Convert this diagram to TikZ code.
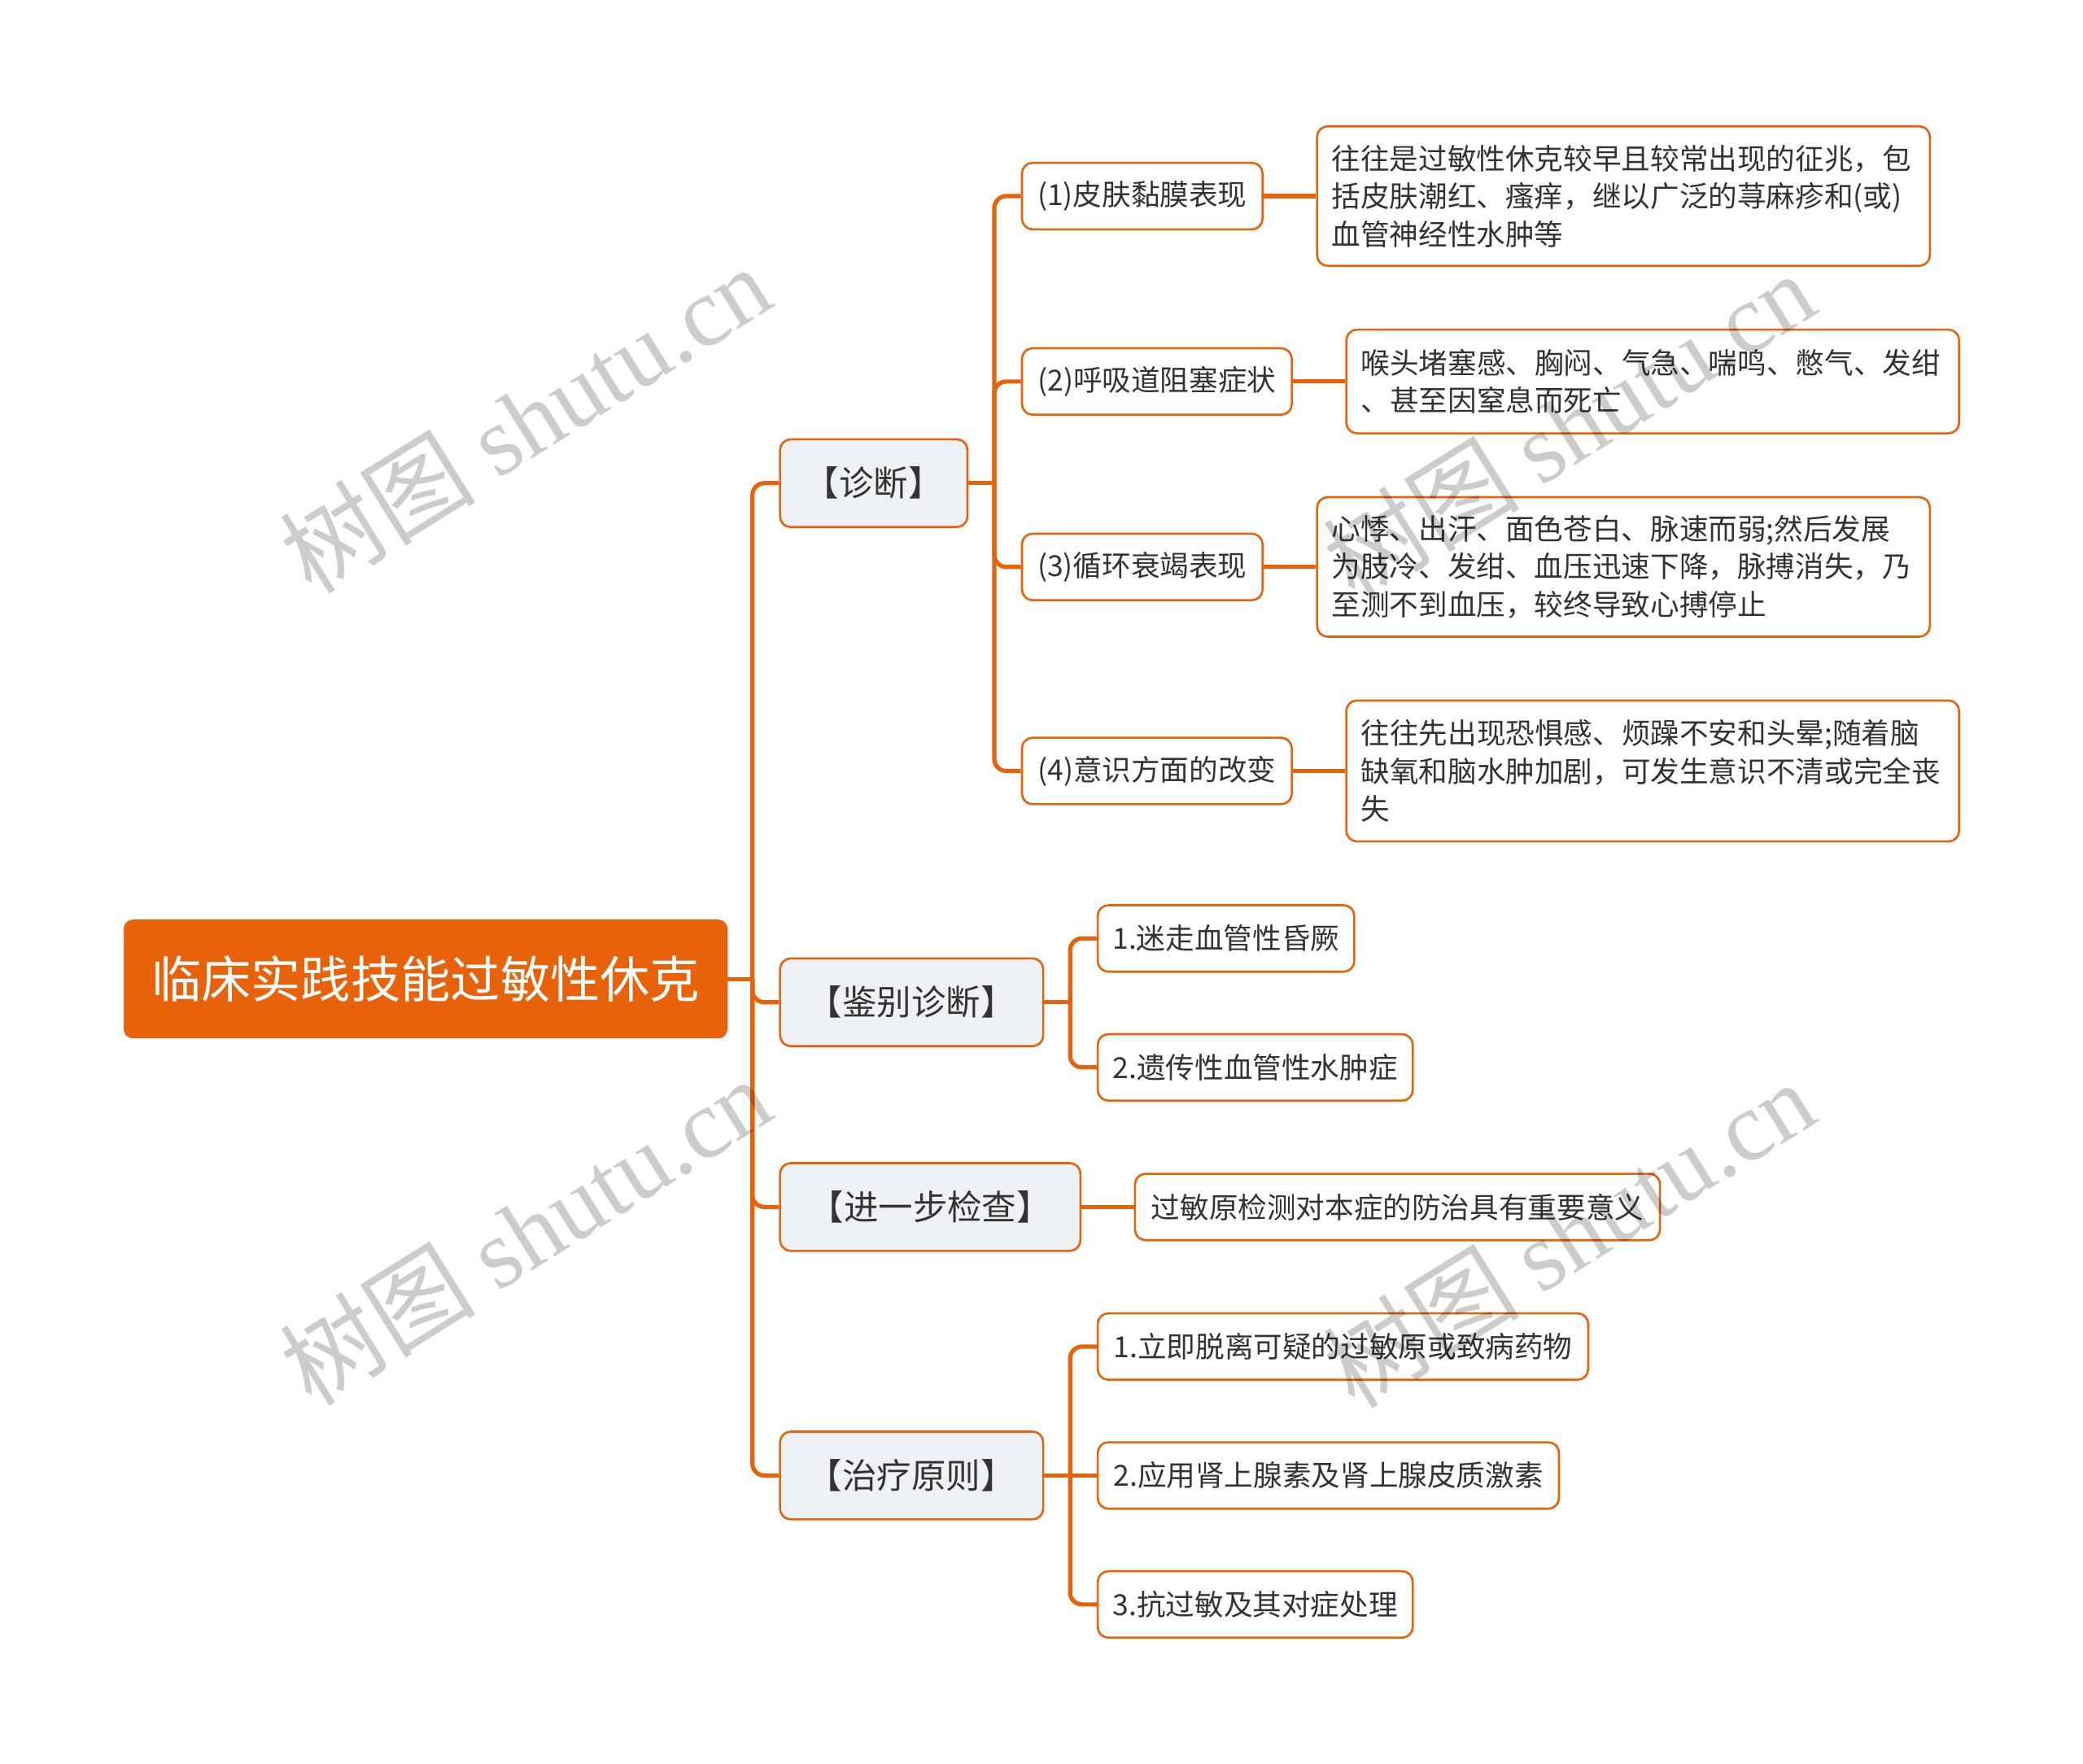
\documentclass[tikz,border=0pt]{standalone}
\usepackage{fontspec}
\setmainfont{Noto Sans CJK SC}
\newfontfamily\wmfont{Liberation Serif}
\usepackage{tikz}
\definecolor{treeorange}{HTML}{E8620A}
\definecolor{topicgray}{HTML}{EEF1F5}
\definecolor{textgray}{HTML}{333333}
\tikzset{
  root/.style={fill=treeorange, draw=treeorange, rounded corners=7pt, text=white, anchor=west,
    minimum width=454pt, minimum height=89pt, font=\fontsize{37.5}{40}\selectfont},
  topic/.style={fill=topicgray, draw=treeorange, line width=1.6pt, rounded corners=8pt, text=textgray,
    anchor=west, minimum height=66pt, font=\fontsize{26}{30}\selectfont},
  sub/.style={fill=white, draw=treeorange, line width=1.6pt, rounded corners=8pt, text=textgray,
    anchor=west, minimum height=50pt, font=\fontsize{21.8}{28.5}\selectfont},
  leaf/.style={sub, align=left, text width=439pt, inner xsep=11pt},
  link/.style={draw=treeorange, line width=3.2pt, rounded corners=9pt},
  wmark/.style={text=black, text opacity=0.2, rotate=32, font=\fontsize{74}{74}\selectfont}
}
\begin{document}
\begin{tikzpicture}[x=1pt,y=-1pt]
    \useasboundingbox (0,0) rectangle (1567,1326.6);
    % nodes
    \node[root] (shock) at (93,736.5) {临床实践技能过敏性休克};
    \node[topic, minimum width=141pt] (diag) at (586,363.5) {【诊断】};
    \node[topic, minimum width=198pt] (diff) at (586,754) {【鉴别诊断】};
    \node[topic, minimum width=226pt] (exam) at (586,908) {【进一步检查】};
    \node[topic, minimum width=198pt] (treat) at (586,1110) {【治疗原则】};

    \node[sub, minimum width=181pt] (skin) at (768,147.5) {(1)皮肤黏膜表现};
    \node[sub, minimum width=203pt] (airway) at (768,287) {(2)呼吸道阻塞症状};
    \node[sub, minimum width=181pt] (circ) at (768,426.5) {(3)循环衰竭表现};
    \node[sub, minimum width=203pt] (mind) at (768,580) {(4)意识方面的改变};

    \node[leaf, minimum height=105pt] (skintxt) at (990,147.5) {往往是过敏性休克较早且较常出现的征兆，包\\括皮肤潮红、瘙痒，继以广泛的荨麻疹和(或)\\血管神经性水肿等};
    \node[leaf, minimum height=78pt] (airwaytxt) at (1012,287) {喉头堵塞感、胸闷、气急、喘鸣、憋气、发绀\\、甚至因窒息而死亡};
    \node[leaf, minimum height=105pt] (circtxt) at (990,426.5) {心悸、出汗、面色苍白、脉速而弱;然后发展\\为肢冷、发绀、血压迅速下降，脉搏消失，乃\\至测不到血压，较终导致心搏停止};
    \node[leaf, minimum height=106pt] (mindtxt) at (1012,580) {往往先出现恐惧感、烦躁不安和头晕;随着脑\\缺氧和脑水肿加剧，可发生意识不清或完全丧\\失};

    \node[sub, minimum width=193pt] (vagal) at (825,706) {1.迷走血管性昏厥};
    \node[sub, minimum width=237pt] (edema) at (825,803) {2.遗传性血管性水肿症};
    \node[sub, minimum width=395pt] (allergen) at (853,908) {过敏原检测对本症的防治具有重要意义};
    \node[sub, minimum width=369pt] (remove) at (825,1013) {1.立即脱离可疑的过敏原或致病药物};
    \node[sub, minimum width=347pt] (adrenal) at (825,1110) {2.应用肾上腺素及肾上腺皮质激素};
    \node[sub, minimum width=237pt] (symptom) at (825,1207) {3.抗过敏及其对症处理};

    % links
    \coordinate (shockfork) at (566,736.5);
    \coordinate (diagfork) at (748,363.5);
    \coordinate (difffork) at (805,754);
    \coordinate (treatfork) at (805,1110);
    \draw[link] (shock.east) -- (shockfork);
    \foreach \t in {diag,diff,exam,treat}
        \draw[link] (shockfork) |- (\t.west);
    \draw[link] (diag.east) -- (diagfork);
    \foreach \s in {skin,airway,circ,mind} {
        \draw[link] (diagfork) |- (\s.west);
        \draw[link] (\s.east) -- (\s txt.west);
    }
    \draw[link] (diff.east) -- (difffork);
    \foreach \s in {vagal,edema}
        \draw[link] (difffork) |- (\s.west);
    \draw[link] (exam.east) -- (allergen.west);
    \draw[link] (treat.east) -- (treatfork);
    \draw[link] (treatfork) |- (remove.west);
    \draw[link] (treatfork) -- (adrenal.west);
    \draw[link] (treatfork) |- (symptom.west);

    % watermarks
    \foreach \wx/\wy [count=\i] in {395/315, 1180/320, 395/926, 1180/928}
        \node[wmark] (wm\i) at (\wx,\wy) {树图 {\wmfont shutu.cn}};
\end{tikzpicture}
\end{document}
